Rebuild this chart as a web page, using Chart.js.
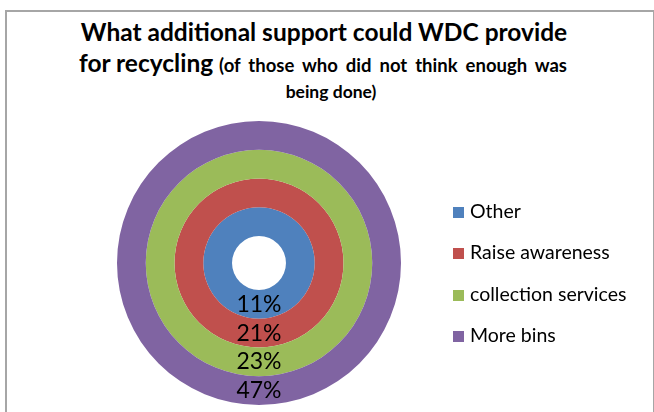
<!DOCTYPE html>
<html>
<head>
<meta charset="utf-8">
<script src="https://cdn.jsdelivr.net/npm/chart.js@4.4.0/dist/chart.umd.min.js"></script>
<style>
  html, body { margin: 0; padding: 0; background: #fff; }
  body { width: 654px; height: 412px; position: relative; overflow: hidden; font-family: Lato, "Open Sans", sans-serif; }
  #frame { position: absolute; left: 5px; top: 10px; width: 646px; height: 420px; border: 2px solid #a6a6a6; }
  #chart { position: absolute; left: 0; top: 0; }
  .title-line { position: absolute; width: 600px; text-align: center; font-weight: bold; color: #000; white-space: nowrap; line-height: 1; }
  .title-line small { font-size: 18.5px; word-spacing: 3.5px; }
  #legend { position: absolute; left: 453px; top: 0; }
  .leg-item { position: absolute; left: 0; white-space: nowrap; font-size: 19.5px; line-height: 1; color: #000; }
  .leg-item span.box { display: inline-block; width: 11px; height: 11px; margin-right: 6px; vertical-align: 0; }
</style>
</head>
<body>
<div id="frame"></div>
<div class="title-line" style="left:24px; top:20px; font-size:24.5px;">What additional support could WDC provide</div>
<div class="title-line" style="left:23px; top:51px; font-size:24.5px;">for recycling <small>(of those who did not think enough was</small></div>
<div class="title-line" style="left:31px; top:83px; font-size:17.5px;">being done)</div>
<canvas id="chart" width="654" height="412"></canvas>
<div id="legend"></div>
<script>
// rings listed from the inside out
const categories = ['Other', 'Raise awareness', 'collection services', 'More bins'];
const percentages = [11, 21, 23, 47];
const ringColors = ['#4F81BD', '#C0504D', '#9BBB59', '#8064A2'];
const legendRows = [212, 253, 295, 336];

// Chart.js puts dataset 0 on the outside, so feed them reversed
const datasets = categories.map((name, i) => ({
    label: name,
    data: [percentages[i]],
    backgroundColor: ringColors[i],
    borderWidth: 0
})).reverse();

const ringLabels = {
    id: 'ringLabels',
    afterDatasetsDraw(chart) {
        const ctx = chart.ctx;
        ctx.save();
        ctx.font = '23px Lato, "Open Sans", sans-serif';
        ctx.fillStyle = '#000';
        ctx.textAlign = 'center';
        ctx.textBaseline = 'middle';
        chart.data.datasets.forEach((ds, i) => {
            const arc = chart.getDatasetMeta(i).data[0];
            if (!arc) return;
            const pos = arc.tooltipPosition();
            ctx.fillText(ds.data[0] + '%', pos.x, pos.y);
        });
        ctx.restore();
    }
};

new Chart(document.getElementById('chart'), {
    type: 'doughnut',
    data: { labels: [''], datasets: datasets },
    options: {
        responsive: false,
        animation: false,
        cutout: '19%',
        layout: { padding: { top: 121, bottom: 7, left: 0, right: 136 } },
        plugins: {
            legend: { display: false },
            tooltip: { enabled: false }
        }
    },
    plugins: [ringLabels]
});

// legend on the right
const legend = document.getElementById('legend');
categories.forEach((name, i) => {
    const row = document.createElement('div');
    row.className = 'leg-item';
    row.style.top = (legendRows[i] - 11) + 'px';
    row.innerHTML = '<span class="box" style="background:' + ringColors[i] + '"></span>' + name;
    legend.appendChild(row);
});
</script>
</body>
</html>
